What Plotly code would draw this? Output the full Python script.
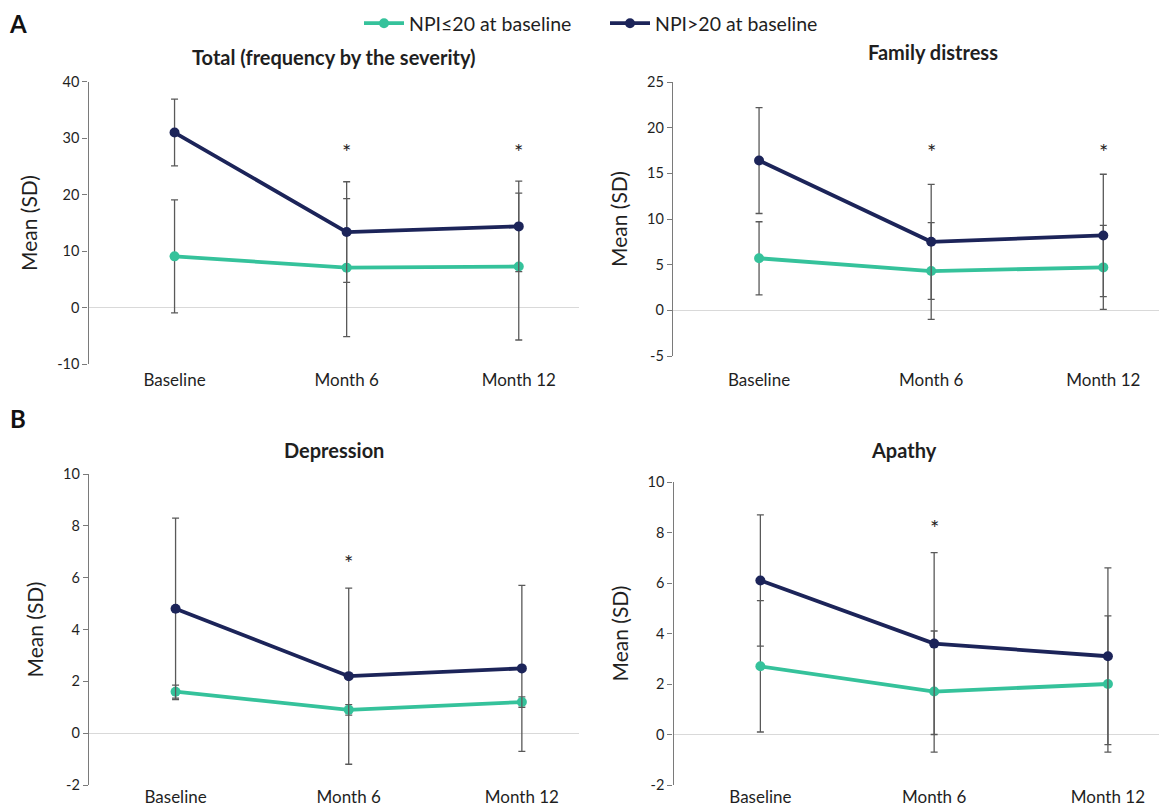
import plotly.graph_objects as go

# page is 1167x809; the html body adds an 8px margin, so the figure is shifted by it
PAGE_W, PAGE_H = 1167, 809
OFF = 8
W, H = PAGE_W - OFF, PAGE_H - OFF

categories = ["Baseline", "Month 6", "Month 12"]

panel_titles = ["Total (frequency by the severity)", "Family distress", "Depression", "Apathy"]

low_means = [
    [9.1, 7.1, 7.3],
    [5.7, 4.3, 4.7],
    [1.6, 0.9, 1.2],
    [2.7, 1.7, 2.0],
]
low_sds = [
    [10.0, 12.2, 13.0],
    [4.0, 5.3, 4.6],
    [0.25, 0.2, 0.2],
    [2.6, 2.4, 2.7],
]
high_means = [
    [31.0, 13.4, 14.4],
    [16.4, 7.5, 8.2],
    [4.8, 2.2, 2.5],
    [6.1, 3.6, 3.1],
]
high_sds = [
    [5.9, 8.9, 8.0],
    [5.8, 6.3, 6.7],
    [3.5, 3.4, 3.2],
    [2.6, 3.6, 3.5],
]

y_ranges = [[-10, 40], [-5, 25], [-2, 10], [-2, 10]]
y_tick_values = [
    [-10, 0, 10, 20, 30, 40],
    [-5, 0, 5, 10, 15, 20, 25],
    [-2, 0, 2, 4, 6, 8, 10],
    [-2, 0, 2, 4, 6, 8, 10],
]
y_tick_labels = [
    ["-10", "0", "10", "20", "30", "40"],
    ["-5", "0", "5", "10", "15", "20", "25"],
    ["-2", "0", "2", "4", "6", "8", "10"],
    ["-2", "0", "2", "4", "6", "8", "10"],
]

# significance markers: (panel, category, y value)
star_panels = [0, 0, 1, 1, 2, 3]
star_cats = ["Month 6", "Month 12", "Month 6", "Month 12", "Month 6", "Month 6"]
star_vals = [28.1, 28.1, 17.7, 17.7, 6.7, 8.33]

series_names = ["NPI≤20 at baseline", "NPI>20 at baseline"]

GREEN = "#35c29b"
NAVY = "#1c2459"
ERR = "#595959"
FONT = "Lato"
TXT = "#1f1f1f"

# layout geometry (page pixels)
x_dom_px = [(88.5, 579), (673, 1167), (89, 579), (673.5, 1167)]
x_ranges = [[-0.5, 2.35], [-0.5, 2.37], [-0.5, 2.33], [-0.5, 2.34]]
y_dom_px = [(81.7, 364.3), (82, 356), (474, 785), (482, 785)]
x_label_standoff = [4, 12, 0, 0]
title_pos = [(334, 57), (933, 52), (334, 450), (904, 450)]


def px(x):
    return (x - OFF) / W


def py(y):
    return 1 - (y - OFF) / H


fig = go.Figure()

for i in range(4):
    xa = "x" if i == 0 else f"x{i+1}"
    ya = "y" if i == 0 else f"y{i+1}"
    for means, sds, color, name in [
        (low_means[i], low_sds[i], GREEN, series_names[0]),
        (high_means[i], high_sds[i], NAVY, series_names[1]),
    ]:
        fig.add_trace(go.Scatter(
            x=categories, y=means, xaxis=xa, yaxis=ya,
            mode="lines+markers", name=name,
            line=dict(color=color, width=3.8),
            marker=dict(color=color, size=10),
            error_y=dict(type="data", array=sds, visible=True,
                         color=ERR, thickness=1.3, width=3.5),
            showlegend=(i == 0),
            legendgroup=name,
        ))

    xd = x_dom_px[i]
    yd = y_dom_px[i]
    xkey = "xaxis" if i == 0 else f"xaxis{i+1}"
    ykey = "yaxis" if i == 0 else f"yaxis{i+1}"
    fig.update_layout(**{
        xkey: dict(
            domain=[max(0, px(xd[0])), min(1, px(xd[1]))], anchor=ya,
            type="category", categoryorder="array", categoryarray=categories,
            range=x_ranges[i], showgrid=False, showline=False, ticks="",
            zeroline=False, fixedrange=True, automargin=False,
            ticklabelstandoff=x_label_standoff[i],
            tickfont=dict(family=FONT, size=17, color=TXT),
        ),
        ykey: dict(
            domain=[py(yd[1]), py(yd[0])], anchor=xa, automargin=False,
            range=y_ranges[i], tickmode="array",
            tickvals=y_tick_values[i], ticktext=y_tick_labels[i],
            showgrid=False, zeroline=True, zerolinecolor="#d9d9d9", zerolinewidth=1.3,
            showline=True, linecolor="#7a7a7a", linewidth=1.4,
            ticks="outside", ticklen=5, tickcolor="#7a7a7a", tickwidth=1.3,
            tickfont=dict(family=FONT, size=14.5, color=TXT),
            title=dict(text="Mean (SD)", font=dict(family=FONT, size=21, color=TXT), standoff=13),
        ),
    })
    fig.add_annotation(
        x=px(title_pos[i][0]), y=py(title_pos[i][1]), xref="paper", yref="paper",
        text=f"<b>{panel_titles[i]}</b>", showarrow=False,
        font=dict(family=FONT, size=20, color=TXT), xanchor="center", yanchor="middle",
    )

for p, c, v in zip(star_panels, star_cats, star_vals):
    xa = "x" if p == 0 else f"x{p+1}"
    ya = "y" if p == 0 else f"y{p+1}"
    fig.add_annotation(x=c, y=v, xref=xa, yref=ya, text="*", showarrow=False,
                       font=dict(family=FONT, size=22, color=TXT),
                       xanchor="center", yanchor="middle", yshift=-3)

# panel letters: "A" sits at the top edge, so anchor its box to the top
fig.add_annotation(x=px(8), y=1.0, xref="paper", yref="paper",
                   text="<b>A</b>", showarrow=False, borderpad=0,
                   font=dict(family=FONT, size=24, color="#111111"),
                   xanchor="left", yanchor="top")
fig.add_annotation(x=px(8), y=py(418), xref="paper", yref="paper",
                   text="<b>B</b>", showarrow=False,
                   font=dict(family=FONT, size=24, color="#111111"),
                   xanchor="left", yanchor="middle")

fig.update_layout(
    width=W, height=H,
    margin=dict(l=0, r=0, t=0, b=0, autoexpand=False),
    paper_bgcolor="white", plot_bgcolor="white",
    showlegend=True,
    legend=dict(orientation="h", x=px(359), y=1.0 + 4 / H, xanchor="left", yanchor="top",
                font=dict(family=FONT, size=19.5, color=TXT), itemwidth=40,
                entrywidth=191, entrywidthmode="pixels",
                bgcolor="rgba(0,0,0,0)"),
)

fig.write_html("out.html")
